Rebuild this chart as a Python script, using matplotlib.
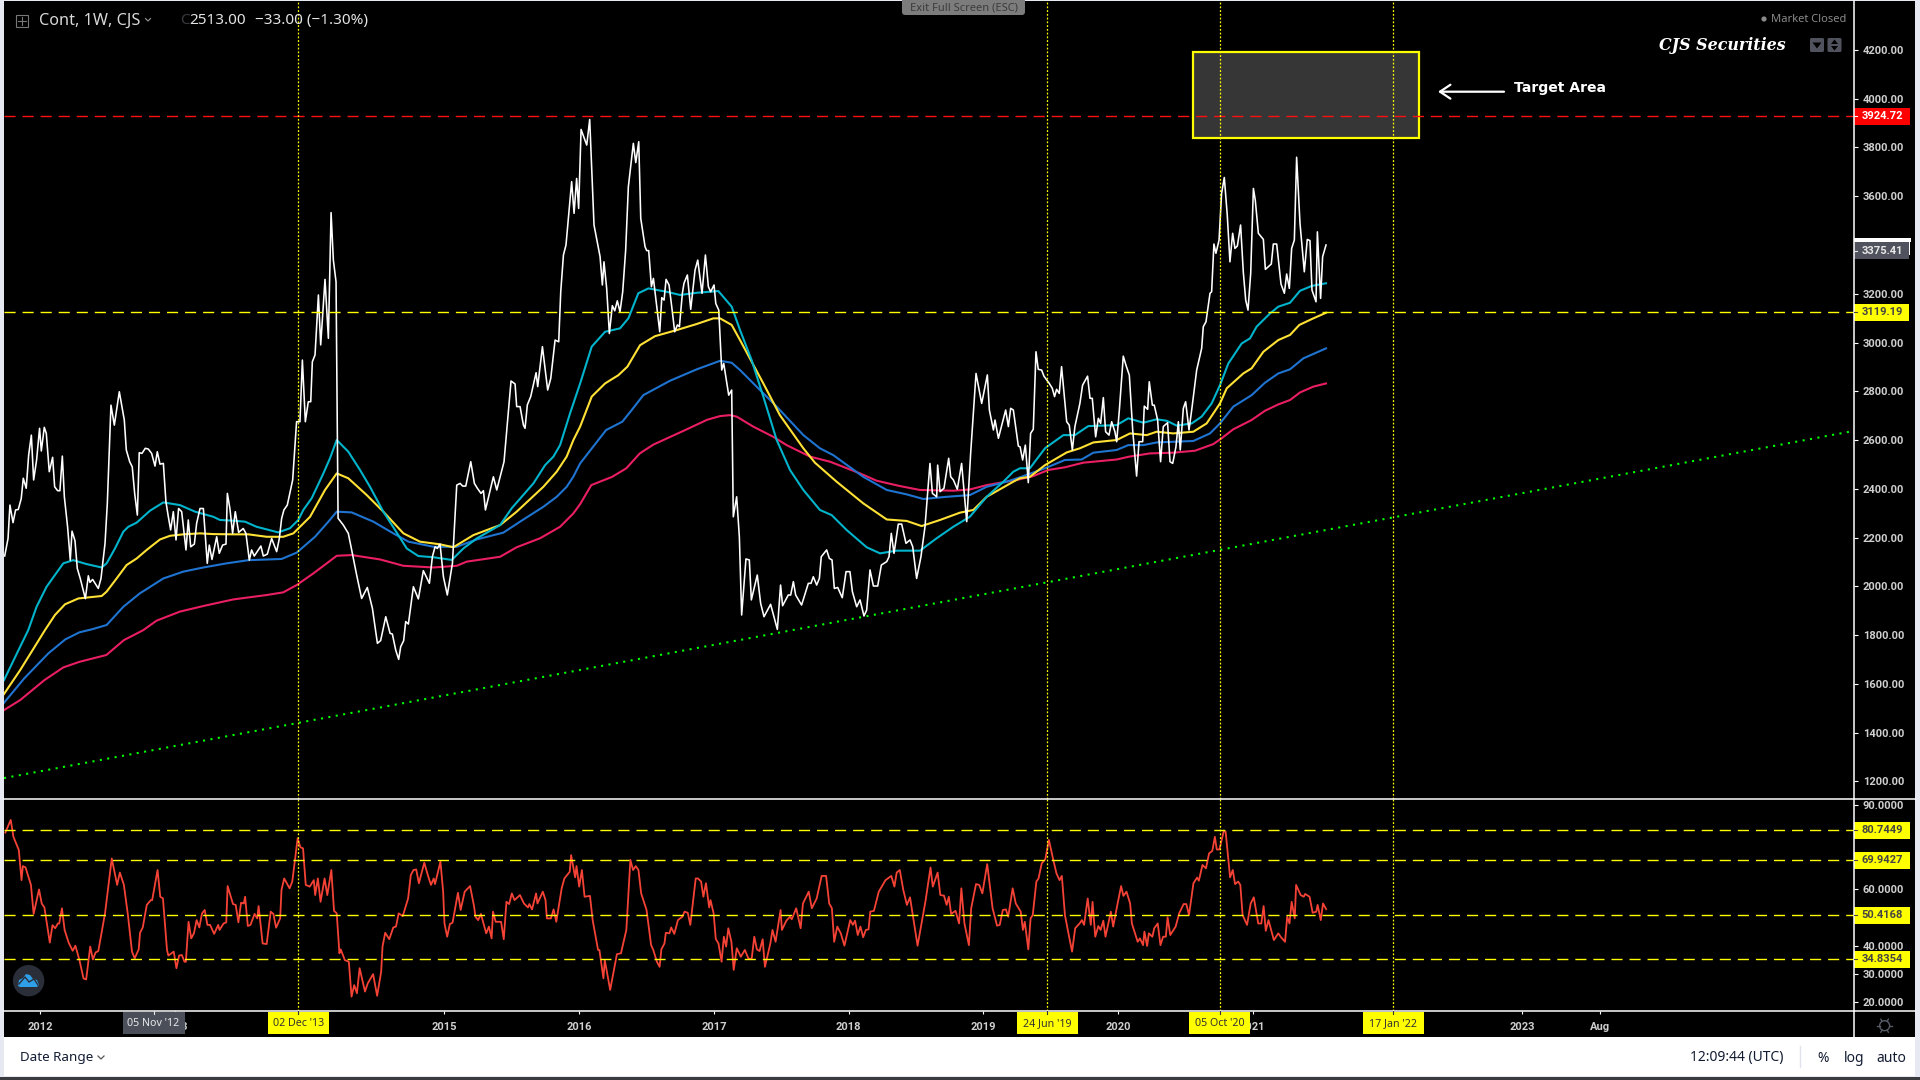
import numpy as np
import matplotlib
matplotlib.use("Agg")
import matplotlib.pyplot as plt
from matplotlib.patches import Rectangle, Circle, Polygon, FancyBboxPatch

# data, x is decimal year
price_years = [
    2011.735, 2011.76, 2011.774, 2011.797, 2011.816, 2011.836, 2011.858, 2011.873, 2011.895, 2011.913,
    2011.933, 2011.95, 2011.972, 2011.994, 2012.007, 2012.029, 2012.044, 2012.066, 2012.091, 2012.106,
    2012.128, 2012.145, 2012.163, 2012.178, 2012.202, 2012.222, 2012.235, 2012.257, 2012.274, 2012.296,
    2012.334, 2012.356, 2012.368, 2012.388, 2012.43, 2012.45, 2012.48, 2012.497, 2012.524, 2012.549,
    2012.586, 2012.623, 2012.638, 2012.663, 2012.682, 2012.70, 2012.72, 2012.734, 2012.754, 2012.779,
    2012.801, 2012.826, 2012.851, 2012.868, 2012.888, 2012.913, 2012.932, 2012.95, 2012.967, 2012.987,
    2013.007, 2013.026, 2013.049, 2013.081, 2013.098, 2013.116, 2013.143, 2013.16, 2013.185, 2013.21,
    2013.239, 2013.254, 2013.274, 2013.309, 2013.328, 2013.353, 2013.378, 2013.388, 2013.407, 2013.427,
    2013.447, 2013.472, 2013.506, 2013.526, 2013.551, 2013.568, 2013.588, 2013.637, 2013.655, 2013.685,
    2013.717, 2013.754, 2013.774, 2013.791, 2013.808, 2013.833, 2013.873, 2013.902, 2013.927, 2013.945,
    2013.967, 2013.989, 2014.007, 2014.019, 2014.039, 2014.064, 2014.081, 2014.113, 2014.138, 2014.158,
    2014.175, 2014.195, 2014.21, 2014.249, 2014.286, 2014.311, 2014.348, 2014.385, 2014.427, 2014.465,
    2014.502, 2014.526, 2014.564, 2014.596, 2014.613, 2014.638, 2014.66, 2014.675, 2014.697, 2014.712,
    2014.732, 2014.769, 2014.806, 2014.843, 2014.888, 2014.91, 2014.93, 2014.947, 2014.967, 2014.992,
    2015.021, 2015.059, 2015.091, 2015.116, 2015.135, 2015.158, 2015.195, 2015.222, 2015.244, 2015.271,
    2015.289, 2015.304, 2015.363, 2015.388, 2015.442, 2015.494, 2015.524, 2015.536, 2015.561, 2015.586,
    2015.598, 2015.615, 2015.64, 2015.68, 2015.692, 2015.727, 2015.766, 2015.789, 2015.821, 2015.848,
    2015.863, 2015.883, 2015.902, 2015.944, 2015.962, 2015.981, 2015.996, 2016.014, 2016.056, 2016.078,
    2016.11, 2016.155, 2016.172, 2016.184, 2016.204, 2016.224, 2016.246, 2016.264, 2016.283, 2016.303,
    2016.323, 2016.345, 2016.365, 2016.402, 2016.42, 2016.442, 2016.457, 2016.489, 2016.501, 2016.516,
    2016.536, 2016.551, 2016.576, 2016.598, 2016.613, 2016.63, 2016.645, 2016.667, 2016.687, 2016.709,
    2016.729, 2016.744, 2016.766, 2016.778, 2016.803, 2016.828, 2016.86, 2016.88, 2016.912, 2016.937,
    2016.959, 2016.976, 2017.001, 2017.014, 2017.036, 2017.058, 2017.073, 2017.11, 2017.132, 2017.144,
    2017.169, 2017.189, 2017.206, 2017.238, 2017.263, 2017.278, 2017.322, 2017.347, 2017.372, 2017.421,
    2017.471, 2017.495, 2017.51, 2017.552, 2017.57, 2017.59, 2017.607, 2017.651, 2017.701, 2017.721,
    2017.738, 2017.763, 2017.783, 2017.797, 2017.837, 2017.857, 2017.877, 2017.894, 2017.919, 2017.953,
    2017.981, 2018.01, 2018.028, 2018.06, 2018.085, 2018.114, 2018.134, 2018.159, 2018.184, 2018.216,
    2018.243, 2018.283, 2018.3, 2018.317, 2018.337, 2018.369, 2018.394, 2018.426, 2018.456, 2018.476,
    2018.505, 2018.537, 2018.567, 2018.604, 2018.622, 2018.654, 2018.661, 2018.679, 2018.708, 2018.743,
    2018.758, 2018.778, 2018.807, 2018.839, 2018.877, 2018.906, 2018.946, 2018.988, 2019.03, 2019.045,
    2019.075, 2019.087, 2019.112, 2019.166, 2019.186, 2019.203, 2019.223, 2019.26, 2019.273, 2019.292,
    2019.312, 2019.334, 2019.351, 2019.371, 2019.391, 2019.408, 2019.433, 2019.45, 2019.49, 2019.512,
    2019.529, 2019.544, 2019.564, 2019.581, 2019.619, 2019.638, 2019.661, 2019.68, 2019.717, 2019.737,
    2019.774, 2019.792, 2019.809, 2019.834, 2019.854, 2019.871, 2019.891, 2019.908, 2019.933, 2019.953,
    2019.977, 2019.99, 2020.01, 2020.039, 2020.059, 2020.084, 2020.109, 2020.138, 2020.156, 2020.183,
    2020.195, 2020.22, 2020.232, 2020.255, 2020.269, 2020.294, 2020.316, 2020.336, 2020.368, 2020.386,
    2020.406, 2020.43, 2020.448, 2020.462, 2020.485, 2020.502, 2020.527, 2020.547, 2020.584, 2020.621,
    2020.633, 2020.653, 2020.683, 2020.695, 2020.712, 2020.727, 2020.75, 2020.769, 2020.789, 2020.811,
    2020.831, 2020.851, 2020.868, 2020.886, 2020.91, 2020.93, 2020.948, 2020.965, 2020.985, 2021.005,
    2021.019, 2021.042, 2021.079, 2021.094, 2021.138, 2021.153, 2021.178, 2021.21, 2021.235, 2021.252,
    2021.272, 2021.289, 2021.309, 2021.326, 2021.351, 2021.383, 2021.405, 2021.425, 2021.44, 2021.47,
    2021.48, 2021.504, 2021.519, 2021.544]
price_vals = [
    2124, 2196, 2333, 2261, 2313, 2315, 2360, 2443, 2402, 2538,
    2620, 2436, 2518, 2648, 2555, 2652, 2627, 2470, 2529, 2408,
    2392, 2392, 2534, 2367, 2244, 2107, 2226, 2187, 2073, 2032,
    1949, 2043, 2016, 2028, 1991, 2032, 2176, 2340, 2743, 2661,
    2798, 2682, 2559, 2511, 2490, 2381, 2292, 2548, 2545, 2566,
    2563, 2545, 2493, 2552, 2501, 2504, 2347, 2285, 2231, 2306,
    2190, 2319, 2306, 2149, 2272, 2162, 2173, 2258, 2319, 2319,
    2094, 2169, 2110, 2203, 2135, 2169, 2173, 2381, 2319, 2217,
    2306, 2221, 2237, 2217, 2107, 2149, 2124, 2165, 2124, 2132,
    2196, 2142, 2196, 2278, 2313, 2333, 2436, 2675, 2675, 2928,
    2675, 2757, 2757, 2921, 2949, 3195, 2990, 3259, 3017, 3533,
    3338, 3249, 2279, 2251, 2217, 2149, 2046, 1950, 1995, 1909,
    1766, 1777, 1875, 1807, 1804, 1738, 1700, 1752, 1777, 1855,
    1845, 1998, 1948, 2064, 2012, 2121, 2162, 2155, 2173, 2039,
    1964, 2094, 2415, 2422, 2411, 2411, 2511, 2422, 2402, 2381,
    2392, 2313, 2449, 2395, 2511, 2842, 2830, 2737, 2737, 2661,
    2648, 2744, 2778, 2876, 2819, 2983, 2805, 2853, 3010, 3003,
    3208, 3359, 3400, 3660, 3530, 3673, 3550, 3874, 3810, 3915,
    3482, 3352, 3236, 3331, 3222, 3037, 3151, 3130, 3171, 3126,
    3208, 3379, 3639, 3817, 3738, 3824, 3509, 3393, 3377, 3377,
    3229, 3263, 3147, 3044, 3184, 3174, 3259, 3236, 3147, 3044,
    3072, 3065, 3202, 3243, 3277, 3136, 3297, 3338, 3202, 3359,
    3229, 3208, 3236, 3160, 3133, 2887, 2914, 2784, 2805, 2285,
    2367, 2203, 1882, 2112, 2108, 1944, 2046, 1930, 1875, 1926,
    1823, 2005, 1920, 1964, 1964, 2019, 1964, 1923, 2012, 2012,
    2039, 2005, 2032, 2121, 2149, 2114, 2108, 1991, 1995, 1953,
    2060, 2060, 1978, 1916, 1944, 1878, 1902, 2067, 2001, 2001,
    2087, 2101, 2121, 2217, 2135, 2255, 2255, 2176, 2190, 2162,
    2032, 2121, 2244, 2504, 2381, 2367, 2497, 2388, 2402, 2525,
    2449, 2436, 2398, 2504, 2265, 2545, 2873, 2750, 2867, 2723,
    2641, 2682, 2607, 2723, 2655, 2730, 2723, 2575, 2572, 2518,
    2579, 2425, 2627, 2644, 2962, 2890, 2887, 2862, 2832, 2812,
    2778, 2808, 2791, 2901, 2675, 2661, 2559, 2655, 2750, 2825,
    2862, 2771, 2771, 2613, 2689, 2668, 2774, 2634, 2620, 2675,
    2634, 2593, 2723, 2944, 2907, 2866, 2641, 2452, 2593, 2593,
    2739, 2726, 2839, 2743, 2743, 2682, 2511, 2655, 2671, 2511,
    2504, 2572, 2675, 2559, 2730, 2757, 2641, 2723, 2887, 2976,
    3065, 3085, 3202, 3208, 3404, 3366, 3420, 3612, 3677, 3523,
    3331, 3448, 3386, 3396, 3482, 3290, 3174, 3133, 3284, 3632,
    3584, 3448, 3423, 3300, 3322, 3404, 3404, 3240, 3202, 3281,
    3222, 3386, 3420, 3760, 3489, 3290, 3423, 3418, 3215, 3167,
    3454, 3181, 3352, 3400]

cyan_years = [
    2011.73, 2011.85, 2011.91, 2011.972, 2012.046, 2012.108, 2012.17, 2012.244, 2012.343, 2012.455,
    2012.492, 2012.554, 2012.616, 2012.653, 2012.715, 2012.814, 2012.913, 2013.036, 2013.148, 2013.284,
    2013.333, 2013.432, 2013.519, 2013.605, 2013.766, 2013.853, 2013.915, 2013.952, 2014.014, 2014.101,
    2014.15, 2014.2, 2014.286, 2014.373, 2014.447, 2014.546, 2014.633, 2014.72, 2014.806, 2014.918,
    2015.054, 2015.14, 2015.239, 2015.413, 2015.499, 2015.66, 2015.747, 2015.809, 2015.858, 2015.932,
    2016.007, 2016.093, 2016.192, 2016.303, 2016.365, 2016.439, 2016.514, 2016.65, 2016.749, 2016.873,
    2017.033, 2017.132, 2017.194, 2017.28, 2017.367, 2017.466, 2017.565, 2017.664, 2017.787, 2017.874,
    2017.985, 2018.134, 2018.233, 2018.357, 2018.53, 2018.654, 2018.777, 2018.9, 2019.025, 2019.149,
    2019.223, 2019.272, 2019.346, 2019.458, 2019.594, 2019.68, 2019.779, 2019.99, 2020.076, 2020.188,
    2020.287, 2020.361, 2020.435, 2020.547, 2020.621, 2020.695, 2020.757, 2020.819, 2020.918, 2020.98,
    2021.029, 2021.128, 2021.19, 2021.277, 2021.351, 2021.438, 2021.544]
cyan_vals = [
    1615, 1752, 1820, 1916, 1998, 2046, 2094, 2107, 2091, 2077,
    2094, 2155, 2224, 2244, 2261, 2310, 2344, 2333, 2306, 2285,
    2272, 2269, 2265, 2244, 2221, 2238, 2272, 2313, 2361, 2463,
    2525, 2600, 2552, 2477, 2408, 2306, 2231, 2155, 2124, 2119,
    2108, 2155, 2196, 2251, 2320, 2422, 2497, 2532, 2579, 2709,
    2832, 2983, 3044, 3058, 3099, 3202, 3222, 3208, 3195, 3204,
    3211, 3147, 3051, 2928, 2778, 2600, 2477, 2395, 2313, 2292,
    2231, 2160, 2135, 2146, 2146, 2197, 2244, 2285, 2367, 2429,
    2470, 2484, 2484, 2566, 2620, 2620, 2657, 2661, 2689, 2671,
    2685, 2679, 2659, 2668, 2696, 2750, 2825, 2914, 2996, 3017,
    3065, 3119, 3147, 3163, 3212, 3232, 3243]

yellow_years = [
    2011.73, 2011.85, 2011.95, 2012.034, 2012.108, 2012.183, 2012.282, 2012.455, 2012.492, 2012.566,
    2012.64, 2012.715, 2012.789, 2012.888, 2012.962, 2013.061, 2013.185, 2013.284, 2013.432, 2013.544,
    2013.68, 2013.803, 2013.878, 2013.94, 2014.002, 2014.113, 2014.2, 2014.286, 2014.423, 2014.546,
    2014.695, 2014.818, 2014.967, 2015.066, 2015.215, 2015.413, 2015.536, 2015.734, 2015.833, 2015.907,
    2015.957, 2016.007, 2016.093, 2016.192, 2016.291, 2016.358, 2016.452, 2016.563, 2016.724, 2016.873,
    2016.996, 2017.046, 2017.132, 2017.194, 2017.367, 2017.49, 2017.664, 2017.75, 2017.911, 2018.109,
    2018.283, 2018.431, 2018.542, 2018.679, 2018.827, 2018.926, 2019.025, 2019.223, 2019.272, 2019.346,
    2019.458, 2019.619, 2019.717, 2019.817, 2019.99, 2020.089, 2020.213, 2020.287, 2020.41, 2020.559,
    2020.658, 2020.757, 2020.807, 2020.93, 2020.992, 2021.079, 2021.19, 2021.277, 2021.346, 2021.438,
    2021.544]
yellow_vals = [
    1558, 1656, 1745, 1820, 1882, 1926, 1950, 1960, 1978, 2032,
    2087, 2114, 2149, 2192, 2207, 2213, 2217, 2214, 2213, 2213,
    2203, 2203, 2217, 2251, 2285, 2395, 2463, 2443, 2374, 2306,
    2217, 2183, 2172, 2160, 2210, 2251, 2306, 2408, 2470, 2532,
    2600, 2655, 2778, 2832, 2866, 2901, 2989, 3026, 3051, 3076,
    3099, 3099, 3072, 3010, 2832, 2702, 2566, 2507, 2429, 2340,
    2274, 2268, 2247, 2272, 2302, 2313, 2367, 2429, 2443, 2449,
    2497, 2549, 2566, 2590, 2600, 2627, 2620, 2634, 2627, 2634,
    2668, 2750, 2812, 2873, 2894, 2962, 3010, 3031, 3072, 3096,
    3122]

blue_years = [
    2011.73, 2011.88, 2012.06, 2012.185, 2012.29, 2012.38, 2012.492, 2012.616, 2012.739, 2012.913,
    2013.061, 2013.21, 2013.383, 2013.544, 2013.791, 2013.903, 2014.039, 2014.138, 2014.2, 2014.311,
    2014.472, 2014.62, 2014.732, 2014.918, 2015.091, 2015.239, 2015.437, 2015.561, 2015.734, 2015.833,
    2015.907, 2015.957, 2016.007, 2016.2, 2016.32, 2016.39, 2016.476, 2016.674, 2016.873, 2017.046,
    2017.132, 2017.194, 2017.317, 2017.466, 2017.664, 2017.787, 2017.886, 2018.109, 2018.283, 2018.431,
    2018.555, 2018.728, 2018.9, 2019.025, 2019.174, 2019.272, 2019.458, 2019.606, 2019.73, 2019.817,
    2019.99, 2020.076, 2020.188, 2020.287, 2020.559, 2020.683, 2020.757, 2020.856, 2020.992, 2021.091,
    2021.19, 2021.277, 2021.376, 2021.45, 2021.544]
blue_vals = [
    1522, 1622, 1725, 1782, 1811, 1823, 1841, 1916, 1971, 2032,
    2060, 2077, 2094, 2107, 2112, 2138, 2203, 2265, 2306, 2303,
    2265, 2217, 2183, 2162, 2162, 2192, 2220, 2265, 2326, 2367,
    2408, 2450, 2504, 2641, 2675, 2723, 2784, 2843, 2890, 2925,
    2917, 2887, 2819, 2737, 2620, 2566, 2538, 2449, 2395, 2377,
    2358, 2367, 2374, 2408, 2429, 2447, 2484, 2518, 2520, 2548,
    2559, 2579, 2579, 2590, 2596, 2627, 2668, 2737, 2784, 2835,
    2873, 2890, 2935, 2953, 2976]

pink_years = [
    2011.73, 2011.85, 2012.03, 2012.17, 2012.29, 2012.49, 2012.62, 2012.764, 2012.863, 2013.036,
    2013.21, 2013.432, 2013.68, 2013.803, 2013.903, 2014.027, 2014.126, 2014.2, 2014.311, 2014.522,
    2014.695, 2014.918, 2015.091, 2015.165, 2015.413, 2015.536, 2015.71, 2015.858, 2015.957, 2016.007,
    2016.09, 2016.245, 2016.35, 2016.45, 2016.55, 2016.78, 2016.95, 2017.045, 2017.119, 2017.169,
    2017.292, 2017.441, 2017.54, 2017.713, 2017.862, 2018.085, 2018.208, 2018.382, 2018.53, 2018.777,
    2018.9, 2019.025, 2019.272, 2019.371, 2019.482, 2019.606, 2019.742, 2019.99, 2020.076, 2020.237,
    2020.41, 2020.571, 2020.707, 2020.769, 2020.856, 2020.992, 2021.091, 2021.19, 2021.277, 2021.351,
    2021.45, 2021.544]
pink_vals = [
    1492, 1533, 1615, 1667, 1690, 1718, 1779, 1820, 1859, 1896,
    1919, 1946, 1964, 1975, 2005, 2053, 2094, 2125, 2128, 2110,
    2084, 2077, 2084, 2101, 2121, 2160, 2197, 2244, 2299, 2337,
    2415, 2449, 2484, 2545, 2581, 2639, 2683, 2698, 2702, 2696,
    2655, 2613, 2579, 2532, 2511, 2463, 2433, 2411, 2395, 2392,
    2397, 2415, 2439, 2452, 2477, 2488, 2507, 2520, 2531, 2545,
    2548, 2556, 2583, 2607, 2644, 2682, 2720, 2746, 2764, 2795,
    2819, 2832]

rsi_years = [
    2011.74, 2011.78, 2011.80, 2011.84, 2011.86, 2011.87, 2011.89, 2011.93, 2011.95, 2011.99,
    2012.01, 2012.03, 2012.07, 2012.09, 2012.11, 2012.13, 2012.14, 2012.16, 2012.18, 2012.21,
    2012.24, 2012.26, 2012.29, 2012.32, 2012.34, 2012.37, 2012.39, 2012.41, 2012.43, 2012.48,
    2012.53, 2012.57, 2012.59, 2012.62, 2012.65, 2012.68, 2012.70, 2012.73, 2012.74, 2012.76,
    2012.79, 2012.82, 2012.83, 2012.87, 2012.89, 2012.91, 2012.94, 2012.95, 2012.99, 2013.01,
    2013.03, 2013.05, 2013.07, 2013.08, 2013.10, 2013.12, 2013.14, 2013.16, 2013.18, 2013.20,
    2013.22, 2013.24, 2013.26, 2013.29, 2013.32, 2013.33, 2013.36, 2013.38, 2013.39, 2013.43,
    2013.45, 2013.47, 2013.49, 2013.51, 2013.52, 2013.54, 2013.56, 2013.59, 2013.61, 2013.62,
    2013.65, 2013.68, 2013.71, 2013.73, 2013.75, 2013.78, 2013.79, 2013.81, 2013.85, 2013.87,
    2013.91, 2013.93, 2013.95, 2013.97, 2014.00, 2014.03, 2014.04, 2014.06, 2014.08, 2014.11,
    2014.13, 2014.16, 2014.18, 2014.20, 2014.22, 2014.23, 2014.26, 2014.29, 2014.31, 2014.33,
    2014.35, 2014.37, 2014.41, 2014.43, 2014.47, 2014.50, 2014.53, 2014.54, 2014.56, 2014.59,
    2014.62, 2014.64, 2014.66, 2014.69, 2014.73, 2014.75, 2014.77, 2014.79, 2014.81, 2014.85,
    2014.88, 2014.90, 2014.92, 2014.93, 2014.97, 2014.99, 2015.00, 2015.02, 2015.04, 2015.06,
    2015.10, 2015.12, 2015.15, 2015.19, 2015.22, 2015.23, 2015.25, 2015.27, 2015.31, 2015.33,
    2015.35, 2015.36, 2015.38, 2015.42, 2015.44, 2015.46, 2015.48, 2015.50, 2015.52, 2015.56,
    2015.59, 2015.62, 2015.63, 2015.65, 2015.68, 2015.69, 2015.73, 2015.75, 2015.76, 2015.79,
    2015.81, 2015.83, 2015.87, 2015.89, 2015.93, 2015.94, 2015.97, 2015.98, 2016.00, 2016.02,
    2016.04, 2016.08, 2016.10, 2016.14, 2016.15, 2016.18, 2016.19, 2016.23, 2016.26, 2016.28,
    2016.31, 2016.35, 2016.38, 2016.40, 2016.42, 2016.44, 2016.46, 2016.50, 2016.534, 2016.55,
    2016.577, 2016.597, 2016.61, 2016.633, 2016.643, 2016.67, 2016.683, 2016.706, 2016.733, 2016.766,
    2016.782, 2016.806, 2016.825, 2016.865, 2016.882, 2016.905, 2016.922, 2016.941, 2016.965, 2016.975,
    2016.998, 2017.014, 2017.034, 2017.057, 2017.074, 2017.091, 2017.107, 2017.13, 2017.147, 2017.17,
    2017.2, 2017.23, 2017.256, 2017.28, 2017.3, 2017.319, 2017.339, 2017.362, 2017.379, 2017.419,
    2017.435, 2017.458, 2017.495, 2017.505, 2017.538, 2017.565, 2017.578, 2017.611, 2017.644, 2017.661,
    2017.704, 2017.727, 2017.763, 2017.8, 2017.833, 2017.856, 2017.876, 2017.893, 2017.916, 2017.942,
    2017.969, 2018.012, 2018.032, 2018.048, 2018.068, 2018.088, 2018.108, 2018.128, 2018.148, 2018.161,
    2018.188, 2018.224, 2018.274, 2018.317, 2018.34, 2018.357, 2018.38, 2018.406, 2018.433, 2018.456,
    2018.512, 2018.572, 2018.608, 2018.625, 2018.661, 2018.681, 2018.708, 2018.728, 2018.744, 2018.761,
    2018.794, 2018.82, 2018.837, 2018.86, 2018.893, 2018.91, 2018.946, 2018.97, 2018.993, 2019.029,
    2019.069, 2019.102, 2019.122, 2019.145, 2019.168, 2019.185, 2019.218, 2019.241, 2019.278, 2019.294,
    2019.308, 2019.334, 2019.351, 2019.367, 2019.394, 2019.41, 2019.434, 2019.46, 2019.487, 2019.517,
    2019.543, 2019.566, 2019.583, 2019.606, 2019.632, 2019.659, 2019.682, 2019.715, 2019.732, 2019.748,
    2019.775, 2019.798, 2019.811, 2019.831, 2019.854, 2019.871, 2019.891, 2019.907, 2019.947, 2019.964,
    2019.997, 2020.023, 2020.04, 2020.063, 2020.09, 2020.103, 2020.146, 2020.163, 2020.186, 2020.196,
    2020.216, 2020.229, 2020.255, 2020.269, 2020.295, 2020.315, 2020.335, 2020.355, 2020.368, 2020.388,
    2020.428, 2020.454, 2020.487, 2020.507, 2020.527, 2020.56, 2020.587, 2020.6, 2020.627, 2020.653,
    2020.676, 2020.7, 2020.719, 2020.733, 2020.753, 2020.786, 2020.799, 2020.819, 2020.832, 2020.852,
    2020.869, 2020.892, 2020.908, 2020.925, 2020.958, 2020.985, 2021.008, 2021.041, 2021.064, 2021.081,
    2021.097, 2021.117, 2021.157, 2021.19, 2021.21, 2021.24, 2021.256, 2021.273, 2021.289, 2021.312,
    2021.322, 2021.356, 2021.379, 2021.389, 2021.422, 2021.445, 2021.472, 2021.482, 2021.505, 2021.522,
    2021.545]
rsi_vals = [
    80.2, 84.7, 78.7, 74.0, 63.3, 68.3, 67.8, 61.6, 51.3, 60.0,
    55.0, 53.6, 41.1, 47.3, 46.2, 47.9, 47.9, 53.3, 45.6, 41.1,
    38.2, 40.0, 34.9, 28.4, 28.0, 39.7, 35.1, 37.6, 38.1, 51.5,
    71.0, 61.6, 66.0, 61.6, 50.9, 37.9, 35.5, 38.7, 44.6, 46.5,
    54.5, 56.2, 56.2, 66.9, 57.4, 56.8, 38.5, 36.5, 37.9, 32.0,
    36.5, 36.7, 34.3, 34.3, 48.5, 42.6, 44.4, 49.1, 46.5, 51.5,
    52.7, 47.4, 47.4, 44.2, 47.4, 45.6, 47.9, 48.3, 61.2, 54.8,
    54.5, 48.3, 55.3, 55.0, 57.4, 47.0, 47.4, 51.3, 49.7, 54.1,
    40.8, 40.6, 52.1, 51.3, 46.4, 49.7, 59.8, 63.9, 60.4, 62.8,
    78.2, 75.0, 74.6, 61.6, 61.0, 63.3, 58.0, 63.9, 55.6, 63.9,
    58.0, 66.9, 52.4, 51.5, 37.3, 38.7, 34.9, 34.3, 21.9, 26.0,
    23.1, 32.0, 23.7, 26.6, 29.9, 22.2, 30.8, 39.7, 44.6, 42.3,
    46.5, 46.8, 51.5, 50.5, 56.8, 65.1, 66.9, 67.1, 62.2, 69.5,
    64.5, 61.6, 63.9, 61.9, 69.9, 59.2, 47.9, 43.2, 47.7, 48.2,
    58.8, 52.7, 59.2, 61.2, 53.9, 50.3, 49.1, 51.3, 44.4, 46.8,
    42.6, 52.1, 48.5, 48.5, 42.3, 55.6, 54.8, 58.6, 56.2, 58.0,
    55.0, 53.6, 54.8, 52.9, 58.6, 55.0, 59.2, 56.2, 49.7, 49.7,
    52.9, 48.5, 60.4, 63.9, 66.3, 72.2, 64.3, 68.3, 61.0, 66.9,
    57.4, 57.7, 49.1, 38.5, 38.5, 28.4, 34.9, 24.3, 32.0, 37.0,
    37.3, 45.6, 70.5, 66.9, 68.3, 66.9, 58.6, 52.7, 40.2, 38.5,
    34.3, 32.5, 38.7, 40.8, 44.6, 44.4, 46.5, 44.2, 49.1, 50.3,
    52.1, 51.7, 47.4, 63.9, 63.9, 62.8, 57.4, 62.2, 53.6, 56.2,
    51.5, 42.4, 40.8, 34.3, 43.2, 39.7, 46.2, 41.4, 31.4, 39.1,
    36.1, 38.5, 35.5, 35.2, 43.2, 38.7, 38.1, 42.3, 32.5, 40.8,
    45.6, 41.4, 52.7, 45.6, 48.9, 50.3, 49.4, 53.3, 46.2, 55.0,
    59.2, 53.3, 56.8, 64.8, 64.8, 55.0, 53.3, 41.4, 46.8, 44.4,
    40.0, 49.1, 47.4, 48.9, 43.8, 46.8, 43.0, 45.6, 45.8, 52.1,
    52.4, 59.2, 63.3, 64.8, 61.0, 66.0, 66.9, 59.8, 54.5, 57.2,
    40.0, 56.2, 67.8, 61.0, 66.0, 58.0, 57.8, 54.5, 57.4, 51.3,
    52.4, 47.9, 60.4, 47.9, 40.2, 53.3, 61.9, 61.6, 58.6, 69.0,
    53.3, 47.1, 47.4, 52.7, 52.9, 50.3, 60.4, 55.0, 52.1, 45.6,
    48.5, 38.7, 49.7, 50.9, 62.8, 63.9, 69.3, 70.7, 77.6, 71.0,
    65.7, 63.3, 64.8, 50.9, 44.4, 37.9, 46.2, 47.9, 49.1, 47.4,
    56.8, 47.4, 55.6, 43.2, 47.0, 45.6, 48.9, 43.2, 52.1, 46.8,
    55.0, 61.2, 57.7, 59.2, 55.0, 47.9, 41.4, 42.6, 40.2, 45.0,
    39.9, 44.4, 43.2, 46.2, 47.9, 40.2, 43.2, 43.2, 50.1, 43.8,
    46.8, 51.5, 54.8, 54.8, 50.9, 62.2, 64.2, 63.1, 68.7, 67.5,
    72.8, 73.7, 78.7, 74.2, 74.2, 80.9, 80.5, 70.5, 64.3, 66.9,
    61.9, 62.8, 61.6, 50.9, 47.4, 55.0, 57.2, 47.9, 47.9, 54.1,
    45.3, 49.1, 42.0, 44.4, 43.0, 41.4, 50.3, 47.9, 55.6, 49.7,
    61.6, 58.0, 57.4, 58.4, 57.4, 51.7, 52.1, 54.5, 49.1, 55.0,
    53.0]

trend_years = [2011.73, 2025.46]
trend_vals = [1213, 2637]
box_years = [2020.56, 2022.235]
box_vals = [3839, 4192]

# 3400 and the years 2014 and 2022 sit fully behind the flags
price_ticks = [1200, 1400, 1600, 1800, 2000, 2200, 2400, 2600, 2800, 3000, 3200, 3600, 3800, 4000, 4200]
rsi_ticks = [20, 30, 40, 60, 90]
year_ticks = [2012, 2013, 2015, 2016, 2017, 2018, 2019, 2020, 2021, 2023, 2023.58]
year_labels = ['2012', '2013', '2015', '2016', '2017', '2018', '2019', '2020', '2021', '2023', 'Aug']

# labels say the level, the drawn line sits where the picture has it
red_level = 3924.72
red_line = 3929
yellow_level = 3119.19
yellow_line = 3124
last_price = 3375.41
rsi_levels = [80.7449, 69.9427, 50.4168, 34.8354]
rsi_lines = [81.1, 70.3, 50.8, 35.2]
cross_years = [2013.915, 2019.475, 2020.757, 2022.044]
cross_labels = ["02 Dec '13", "24 Jun '19", "05 Oct '20", "17 Jan '22"]
hover_year = 2012.84
hover_label = "05 Nov '12"

LEFT, RIGHT, TOP, SEP, BOT, FOOT = 4, 1853.5, 1, 799.3, 1011, 1037
W, H = 1920, 1080
TICK_FONT = 'Roboto'
UI_FONT = 'Noto Sans'
DASH = (0, (8, 5))


def rect_px(x0, y0, x1, y1):
    return [x0 / W, 1 - y1 / H, (x1 - x0) / W, (y1 - y0) / H]


fig = plt.figure(figsize=(19.2, 10.8), dpi=100, facecolor='#e6e9f2')

ax1 = fig.add_axes(rect_px(LEFT, TOP, RIGHT, SEP), facecolor='black')
ax2 = fig.add_axes(rect_px(LEFT, SEP, RIGHT, BOT), facecolor='black')
ov = fig.add_axes([0, 0, 1, 1], facecolor='none', zorder=10)
ov.set_xlim(0, W)
ov.set_ylim(H, 0)
ov.axis('off')

# black strip behind the axis labels, white footer
back = fig.add_axes([0, 0, 1, 1], facecolor='none', zorder=-1)
back.set_xlim(0, W)
back.set_ylim(H, 0)
back.axis('off')
back.add_patch(Rectangle((LEFT, TOP), 1915 - LEFT, FOOT - TOP, fc='black', ec='none'))
back.add_patch(Rectangle((LEFT, FOOT), 1915 - LEFT, 39, fc='white', ec='none'))
back.add_patch(Rectangle((0, 1077), W, 3, fc='#3a3b3f', ec='none'))

# price pane
x_min, x_max = 2011.73, 2025.46
ax1.set_xlim(x_min, x_max)
ax1.set_ylim(1126, 4401)
ax1.plot(trend_years, trend_vals, color='#00ff00', lw=1.5, ls=(0, (1, 2.6)), zorder=2)
ax1.add_patch(Rectangle((box_years[0], box_vals[0]), box_years[1] - box_years[0], box_vals[1] - box_vals[0],
                        fc='#363636', ec='#ffff00', lw=1.6, zorder=2))
ax1.plot(pink_years, pink_vals, color='#e91e63', lw=1.5, zorder=3)
ax1.plot(blue_years, blue_vals, color='#1e74d0', lw=1.5, zorder=3)
ax1.plot(yellow_years, yellow_vals, color='#ffe135', lw=1.5, zorder=3)
ax1.plot(cyan_years, cyan_vals, color='#00b4cc', lw=1.5, zorder=3)
ax1.plot(price_years, price_vals, color='white', lw=1.15, zorder=4)
ax1.axhline(red_line, color='#ff1010', lw=1, ls=DASH, zorder=5)
ax1.axhline(yellow_line, color='#ffff00', lw=1, ls=DASH, zorder=5)

# rsi pane
ax2.set_xlim(x_min, x_max)
ax2.set_ylim(16.8, 92.03)
ax2.plot(rsi_years, rsi_vals, color='#f44336', lw=1.3, zorder=3)
for lvl in rsi_lines:
    ax2.axhline(lvl, color='#ffff00', lw=1, ls=DASH, zorder=4)

for ax in (ax1, ax2):
    for yr in cross_years:
        ax.axvline(yr, color='#ffff00', lw=0.9, ls=(0, (1.5, 1.5)), zorder=5)
    for s in ax.spines.values():
        s.set_visible(False)
    ax.yaxis.tick_right()
    ax.tick_params(axis='y', length=3.2, width=0.8, color='white', labelcolor='#cfcfcf', pad=3.5, labelsize=8)

ax1.set_yticks(price_ticks)
ax1.set_yticklabels(['%.2f' % v for v in price_ticks], fontfamily=TICK_FONT, fontweight='bold')
ax2.set_yticks(rsi_ticks)
ax2.set_yticklabels(['%.4f' % v for v in rsi_ticks], fontfamily=TICK_FONT, fontweight='bold')
ax1.set_xticks([])
ax2.set_xticks(year_ticks)
ax2.set_xticklabels(year_labels, fontfamily=TICK_FONT, fontweight='bold')
ax2.tick_params(axis='x', length=2.2, width=0.8, color='white', labelcolor='#cfcfcf', pad=5.8, labelsize=8)

# pane borders
ov.plot([LEFT, 1915], [SEP, SEP], color='white', lw=1.1)
ov.plot([LEFT, 1915], [BOT, BOT], color='white', lw=1.1)
ov.plot([RIGHT, RIGHT], [TOP, FOOT], color='white', lw=1.1)


def y_px(ax, v):
    return H - ax.transData.transform((x_min, v))[1]


def x_px(ax, v):
    return ax.transData.transform((v, 0))[0]


def price_flag(ax, val, label, bg, fg, right=1910):
    py = y_px(ax, val)
    ov.add_patch(Rectangle((RIGHT, py - 8.5), right - RIGHT, 17, fc=bg, ec='none'))
    ov.plot([RIGHT, RIGHT + 3.5], [py, py], color=fg, lw=0.8)
    ov.text(1882, py, label, color=fg, fontsize=8, fontfamily=TICK_FONT, fontweight='bold', ha='center', va='center')


def date_flag(ax, val, label, bg, fg, half):
    px = x_px(ax, val)
    ov.add_patch(Rectangle((px - half, 1011.7), 2 * half, 22.3, fc=bg, ec='none'))
    ov.plot([px, px], [1011, 1014], color=fg, lw=0.8)
    ov.text(px, 1023.3, label, color=fg, fontsize=7.7, fontfamily=UI_FONT, ha='center', va='center')


ov.add_patch(Rectangle((RIGHT, 238), 57, 4, fc='white', ec='none'))
ov.add_patch(Rectangle((1909, 238), 1, 17, fc='white', ec='none'))
price_flag(ax1, last_price, '%.2f' % last_price, '#50535e', '#e8e8e8', 1909)
price_flag(ax1, red_line, '%.2f' % red_level, '#ff0000', 'white')
price_flag(ax1, yellow_line, '%.2f' % yellow_level, '#ffff00', '#444444', 1909)
for line, lvl in zip(rsi_lines, rsi_levels):
    price_flag(ax2, line, '%.4f' % lvl, '#ffff00', '#444444')

date_flag(ax2, hover_year, hover_label, '#4a4f5a', '#e8e8e8', 31)
for yr, lab in zip(cross_years, cross_labels):
    date_flag(ax2, yr, lab, '#ffff00', '#333333', 30.5)

# header
ov.add_patch(Rectangle((16, 15), 12, 12, fc='none', ec='#777777', lw=0.8))
ov.plot([22, 22], [17, 25], color='#777777', lw=0.8)
ov.plot([18, 26], [21, 21], color='#777777', lw=0.8)
ov.text(39, 20.5, 'Cont, 1W, CJS', color='#d8d8d8', fontsize=11.7, fontfamily=UI_FONT, va='center')
ov.plot([145.5, 148, 150.5], [18.5, 21, 18.5], color='#9a9a9a', lw=0.8)
ov.text(180, 20.5, 'C', color='#3a3a40', fontsize=11, fontfamily=UI_FONT, va='center')
ov.text(189, 20.5, '2513.00', color='#e4e4e4', fontsize=11, fontfamily=UI_FONT, va='center')
ov.text(255, 20.5, '\u221233.00 (\u22121.30%)', color='#e4e4e4', fontsize=11, fontfamily=UI_FONT, va='center')

# exit full screen tab
ov.add_patch(FancyBboxPatch((902, -5), 123, 20, boxstyle='round,pad=0,rounding_size=3', fc='#7c7c7c', ec='none'))
ov.text(963.5, 7.5, 'Exit Full Screen (ESC)', color='#3c3c3c', fontsize=8, fontfamily=UI_FONT, ha='center', va='center')

# top right labels
ov.add_patch(Circle((1764, 19), 2.6, fc='#8a8a8a', ec='none'))
ov.text(1771, 19, 'Market Closed', color='#8a8a8a', fontsize=8, fontfamily=UI_FONT, va='center')
ov.text(1659, 45, 'CJS Securities', color='white', fontsize=11.4, fontfamily='DejaVu Serif', fontweight='bold',
        fontstyle='italic', va='center')
ov.add_patch(FancyBboxPatch((1810, 38), 14, 14, boxstyle='round,pad=0,rounding_size=1.5', fc='#50535e', ec='none'))
ov.add_patch(FancyBboxPatch((1827.5, 38), 14, 14, boxstyle='round,pad=0,rounding_size=1.5', fc='#50535e', ec='none'))
ov.add_patch(Polygon([(1812.5, 42.5), (1821.5, 42.5), (1817, 48.5)], fc='black', ec='none'))
ov.add_patch(Polygon([(1831, 44), (1838, 44), (1834.5, 39.5)], fc='black', ec='none'))
ov.add_patch(Polygon([(1831, 46), (1838, 46), (1834.5, 50.5)], fc='black', ec='none'))

# target area note
ov.annotate('', xy=(1438, 91.7), xytext=(1504, 91.7),
            arrowprops=dict(arrowstyle='->,head_length=0.75,head_width=0.5', color='white', lw=1.6, shrinkA=0, shrinkB=0))
ov.text(1514, 88, 'Target Area', color='white', fontsize=10.1, fontfamily='DejaVu Sans', fontweight='bold', va='center')

# logo bottom left
ov.add_patch(Circle((28.6, 980.7), 15.7, fc='#2a2e39', ec='none'))
ov.add_patch(Polygon([(18, 986), (19, 980), (23, 978), (26, 974), (30, 975), (33, 979), (37, 980), (39, 985), (37, 987), (20, 987)],
                     fc='#2f9fe8', ec='none'))
ov.plot([19, 25, 29, 34, 38], [984, 977, 982, 979, 985], color='#2a2e39', lw=1)

# settings wheel
ov.add_patch(Circle((1884.6, 1025.7), 5, fc='none', ec='#565b66', lw=1))
for a in np.deg2rad(np.arange(0, 360, 60)):
    ov.plot([1884.6 + 5 * np.cos(a), 1884.6 + 7.5 * np.cos(a)], [1025.7 + 5 * np.sin(a), 1025.7 + 7.5 * np.sin(a)],
            color='#565b66', lw=1)

# footer
ov.text(20, 1058, 'Date Range', color='#131c33', fontsize=9.7, fontfamily=UI_FONT, va='center')
ov.plot([98, 101, 104], [1056, 1059, 1056], color='#555555', lw=0.9)
ov.text(1783, 1058, '12:09:44 (UTC)', color='#131c33', fontsize=10, fontfamily=UI_FONT, ha='right', va='center')
ov.plot([1799.5, 1799.5], [1046, 1067], color='#e0e3eb', lw=1)
ov.text(1823, 1058, '%', color='#131c33', fontsize=10, fontfamily=UI_FONT, ha='center', va='center')
ov.text(1854, 1058, 'log', color='#131c33', fontsize=10, fontfamily=UI_FONT, ha='center', va='center')
ov.text(1891, 1058, 'auto', color='#131c33', fontsize=10, fontfamily=UI_FONT, ha='center', va='center')

fig.savefig('out.png', dpi=100, facecolor=fig.get_facecolor())
